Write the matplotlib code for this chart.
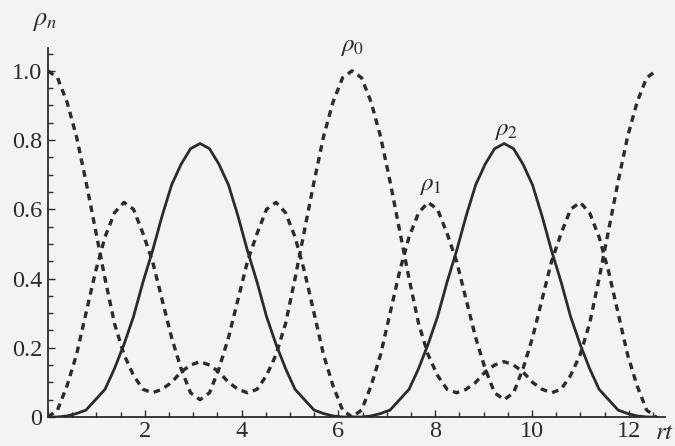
import matplotlib
matplotlib.use("Agg")
import matplotlib.pyplot as plt
from matplotlib.ticker import MultipleLocator, FixedLocator, FixedFormatter

plt.rcParams["mathtext.fontset"] = "stix"

# time samples (rt)
t = [0.000, 0.196, 0.393, 0.589, 0.785, 0.982, 1.178, 1.374, 1.571, 1.767,
     1.963, 2.160, 2.356, 2.553, 2.749, 2.945, 3.142, 3.338, 3.534, 3.731,
     3.927, 4.123, 4.320, 4.516, 4.712, 4.909, 5.105, 5.301, 5.498, 5.694,
     5.890, 6.087, 6.283, 6.480, 6.676, 6.872, 7.069, 7.265, 7.461, 7.658,
     7.854, 8.050, 8.247, 8.443, 8.639, 8.836, 9.032, 9.228, 9.425, 9.621,
     9.817, 10.014, 10.210, 10.407, 10.603, 10.799, 10.996, 11.192, 11.388, 11.585,
     11.781, 11.977, 12.174, 12.370, 12.566]

rho0 = [1.00, 0.98, 0.91, 0.81, 0.68, 0.54, 0.40, 0.27, 0.18, 0.12,
        0.08, 0.07, 0.08, 0.10, 0.13, 0.15, 0.16, 0.15, 0.13, 0.10,
        0.08, 0.07, 0.08, 0.12, 0.18, 0.27, 0.40, 0.54, 0.68, 0.81,
        0.91, 0.98, 1.00, 0.98, 0.91, 0.81, 0.68, 0.54, 0.40, 0.27,
        0.18, 0.12, 0.08, 0.07, 0.08, 0.10, 0.13, 0.15, 0.16, 0.15,
        0.13, 0.10, 0.08, 0.07, 0.08, 0.12, 0.18, 0.27, 0.40, 0.54,
        0.68, 0.81, 0.91, 0.98, 1.00]

rho1 = [0.00, 0.02, 0.09, 0.18, 0.30, 0.42, 0.52, 0.59, 0.62, 0.60,
        0.53, 0.45, 0.34, 0.23, 0.14, 0.07, 0.05, 0.07, 0.14, 0.23,
        0.34, 0.45, 0.53, 0.60, 0.62, 0.59, 0.52, 0.42, 0.30, 0.18,
        0.09, 0.02, 0.00, 0.02, 0.09, 0.18, 0.30, 0.42, 0.52, 0.59,
        0.62, 0.60, 0.53, 0.45, 0.34, 0.23, 0.14, 0.07, 0.05, 0.07,
        0.14, 0.23, 0.34, 0.45, 0.53, 0.60, 0.62, 0.59, 0.52, 0.42,
        0.30, 0.18, 0.09, 0.02, 0.00]

rho2 = [0.000, 0.000, 0.003, 0.01, 0.02, 0.05, 0.08, 0.14, 0.21, 0.29,
        0.39, 0.48, 0.58, 0.67, 0.73, 0.775, 0.79, 0.775, 0.73, 0.67,
        0.58, 0.48, 0.39, 0.29, 0.21, 0.14, 0.08, 0.05, 0.02, 0.01,
        0.003, 0.000, 0.000, 0.000, 0.003, 0.01, 0.02, 0.05, 0.08, 0.14,
        0.21, 0.29, 0.39, 0.48, 0.58, 0.67, 0.73, 0.775, 0.79, 0.775,
        0.73, 0.67, 0.58, 0.48, 0.39, 0.29, 0.21, 0.14, 0.08, 0.05,
        0.02, 0.01, 0.003, 0.000, 0.000]

y_ticks = [0, 0.2, 0.4, 0.6, 0.8, 1.0]
y_labels = ["0", "0.2", "0.4", "0.6", "0.8", "1.0"]
x_ticks = [2, 4, 6, 8, 10, 12]
x_labels = ["2", "4", "6", "8", "10", "12"]

ink = "#2b2b2b"
W, H = 675, 446
fig = plt.figure(figsize=(W / 100, H / 100), dpi=100)
fig.patch.set_facecolor("#f3f3f3")
ax = fig.add_axes([48 / W, 29 / H, (665 - 48) / W, (417 - 48) / H])
ax.set_facecolor("none")

ax.plot(t, rho2, color=ink, lw=2.0, solid_capstyle="round", solid_joinstyle="round")
ax.plot(t, rho0, color=ink, lw=2.4, dashes=(2.0, 1.6))
ax.plot(t, rho1, color=ink, lw=2.4, dashes=(2.0, 1.6))

ax.set_xlim(0, 12.75)
ax.set_ylim(0, 1.066)
for s in ("top", "right"):
    ax.spines[s].set_visible(False)
for s in ("left", "bottom"):
    ax.spines[s].set_color(ink)
    ax.spines[s].set_linewidth(1.3)

ax.yaxis.set_major_locator(FixedLocator(y_ticks))
ax.yaxis.set_major_formatter(FixedFormatter(y_labels))
ax.yaxis.set_minor_locator(MultipleLocator(0.05))
ax.xaxis.set_major_locator(FixedLocator(x_ticks))
ax.xaxis.set_major_formatter(FixedFormatter(x_labels))
ax.xaxis.set_minor_locator(MultipleLocator(0.5))
ax.tick_params(which="both", direction="in", colors=ink, width=1.0)
ax.tick_params(which="major", length=5)
ax.tick_params(which="minor", length=3.5)
ax.tick_params(axis="y", which="major", pad=4)
ax.tick_params(axis="x", which="major", pad=3)
for lab in ax.get_xticklabels() + ax.get_yticklabels():
    lab.set_fontfamily("Liberation Serif")
    lab.set_fontsize(17.5)
    lab.set_color(ink)

def ftext(x, y, s, **kw):
    fig.text(x / W, 1 - y / H, s, color=ink, ha="center", va="center", **kw)

ftext(45, 20, r"$\rho_n$", fontsize=19)
ftext(352, 46, r"$\rho_0$", fontsize=18)
ftext(430, 185, r"$\rho_1$", fontsize=18)
ftext(506, 130, r"$\rho_2$", fontsize=18)
fig.text(674 / W, 1 - 432 / H, r"$rt$", color=ink, ha="right", va="center",
         fontsize=18)

fig.savefig("out.png", dpi=100, facecolor=fig.get_facecolor())
